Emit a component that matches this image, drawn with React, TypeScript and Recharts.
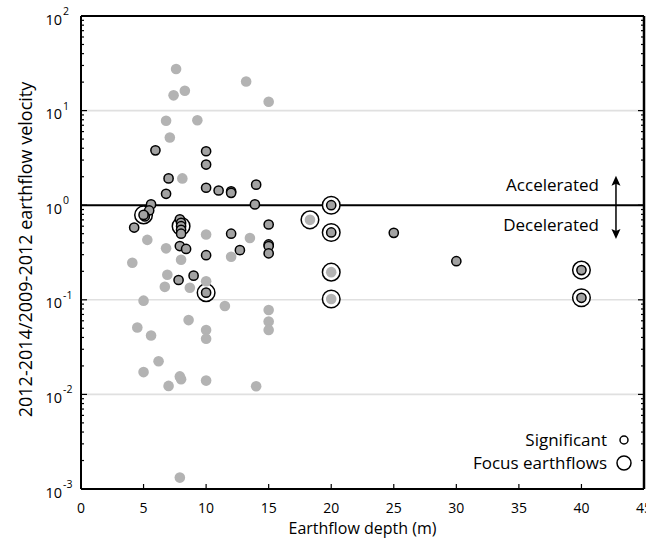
import React from 'react';
import { ScatterChart, Scatter, XAxis, YAxis, ReferenceLine, ReferenceDot, Legend } from 'recharts';

const FONT = '"Open Sans", "Noto Sans", sans-serif';

// ---- ticks ----
const depthTicks = [0, 5, 10, 15, 20, 25, 30, 35, 40, 45];
const decadeTicks = [0.001, 0.01, 0.1, 1, 10, 100];
const minorMultipliers = [2, 3, 4, 5, 6, 7, 8, 9];
const ratioTicks = [
  ...decadeTicks,
  ...decadeTicks.slice(0, -1).flatMap((d) => minorMultipliers.map((m) => +(d * m).toPrecision(3))),
].sort((a, b) => a - b);
const gridRatios = [10, 0.1, 0.01];

// ---- data ----
const nonsigDepth = [7.6, 13.2, 8.3, 7.4, 15.0, 6.8, 9.3, 7.1, 8.1, 13.5, 5.3, 10.0, 6.8, 12.0, 4.1, 8.0, 6.9, 6.7, 8.7, 10.0, 5.0, 11.5, 15.0, 15.0, 15.0, 8.6, 4.5, 10.0, 10.0, 5.6, 6.2, 5.0, 7.9, 8.0, 7.0, 10.0, 14.0, 7.9, 18.3, 20.0, 20.0];
const nonsigRatio = [27.5, 20.3, 16.2, 14.5, 12.4, 7.8, 7.9, 5.2, 1.92, 0.45, 0.43, 0.49, 0.35, 0.285, 0.246, 0.265, 0.184, 0.137, 0.134, 0.157, 0.098, 0.086, 0.078, 0.059, 0.048, 0.061, 0.051, 0.048, 0.0387, 0.042, 0.0224, 0.0172, 0.0155, 0.0145, 0.0123, 0.014, 0.0122, 0.00132, 0.70, 0.196, 0.102];

const sigDepth = [5.95, 10.0, 10.0, 7.0, 10.0, 11.0, 12.0, 12.0, 14.0, 6.8, 5.6, 13.9, 5.45, 5.1, 5.0, 4.25, 7.9, 8.0, 8.0, 8.0, 8.0, 7.9, 8.4, 7.8, 9.0, 10.0, 10.0, 12.0, 12.7, 15.0, 15.0, 15.0, 15.0, 20.0, 20.0, 25.0, 30.0, 40.0, 40.0];
const sigRatio = [3.8, 3.72, 2.69, 1.92, 1.53, 1.43, 1.40, 1.35, 1.65, 1.32, 1.02, 1.02, 0.88, 0.76, 0.79, 0.58, 0.71, 0.65, 0.60, 0.55, 0.50, 0.37, 0.345, 0.162, 0.18, 0.119, 0.296, 0.50, 0.335, 0.625, 0.385, 0.37, 0.31, 1.0, 0.515, 0.51, 0.256, 0.206, 0.105];

const focusDepth = [5.0, 8.0, 10.0, 18.3, 20.0, 20.0, 20.0, 20.0, 40.0, 40.0];
const focusRatio = [0.79, 0.60, 0.119, 0.70, 1.0, 0.515, 0.196, 0.102, 0.206, 0.105];

const toRows = (xs: number[], ys: number[]) => xs.map((d, i) => ({ depth: d, ratio: ys[i] }));
const nonsigData = toRows(nonsigDepth, nonsigRatio);
const sigData = toRows(sigDepth, sigRatio);
const focusData = toRows(focusDepth, focusRatio);

// annotation positions (data space)
const arrowDepth = 42.76;
const arrowTop = 2.05;
const arrowBottom = 0.44;
const textDepth = 41.4;
const accelRatio = 1.65;
const decelRatio = 0.62;

const isDecade = (v: number) => {
  const lg = Math.log10(v);
  return Math.abs(lg - Math.round(lg)) < 1e-6;
};

const LeftTick = (p: any) => {
  const { x, y, payload } = p;
  const v = payload.value;
  const major = isDecade(v);
  return (
    <g>
      <line x1={x} y1={y} x2={x + (major ? 6 : 3)} y2={y} stroke="#000" strokeWidth={1.2} />
      {major && (
        <>
          <text x={x - 19} y={y + 3} textAnchor="end" dominantBaseline="central" fontSize={14.5} fontFamily={FONT} fill="#000">10</text>
          <text x={x - 18} y={y - 5} textAnchor="start" dominantBaseline="central" fontSize={10.5} fontFamily={FONT} fill="#000">{String(Math.round(Math.log10(v)))}</text>
        </>
      )}
    </g>
  );
};

const RightTick = (p: any) => {
  const { x, y, payload } = p;
  const major = isDecade(payload.value);
  return <line x1={x} y1={y} x2={x - (major ? 6 : 3)} y2={y} stroke="#000" strokeWidth={1.2} />;
};

const BottomTick = (p: any) => {
  const { x, y, payload } = p;
  return (
    <g>
      <line x1={x} y1={y} x2={x} y2={y - 5} stroke="#000" strokeWidth={1.2} />
      <text x={x} y={y + 18} textAnchor="middle" dominantBaseline="central" fontSize={14} fontFamily={FONT} fill="#000">{payload.value}</text>
    </g>
  );
};

const TopTick = (p: any) => {
  const { x, y } = p;
  return <line x1={x} y1={y} x2={x} y2={y + 5} stroke="#000" strokeWidth={1.2} />;
};

const YLabel = (props: any) => {
  const vb = props.viewBox || { x: 0, y: 16, width: 73, height: 473 };
  const cx = vb.x + 17;
  const cy = vb.y + vb.height / 2 - 3;
  return (
    <text x={cx} y={cy} transform={`rotate(-90 ${cx} ${cy})`} textAnchor="middle" dominantBaseline="central" fontSize={18} fontFamily={FONT} fill="#000">
      2012-2014/2009-2012 earthflow velocity
    </text>
  );
};

const XLabel = (props: any) => {
  const vb = props.viewBox || { x: 73, y: 489, width: 563, height: 56 };
  const cx = vb.x + vb.width / 2;
  const cy = vb.y + 39;
  return (
    <text x={cx} y={cy} textAnchor="middle" dominantBaseline="central" fontSize={16} fontFamily={FONT} fill="#000">
      Earthflow depth (m)
    </text>
  );
};

const ArrowShape = (p: any) => {
  const { x1, y1, x2, y2 } = p;
  const top = Math.min(y1, y2);
  const bot = Math.max(y1, y2);
  const x = x1;
  return (
    <g>
      <line x1={x} y1={top + 4} x2={x} y2={bot - 4} stroke="#000" strokeWidth={1.5} />
      <path d={`M${x},${top} L${x + 4.5},${top + 10} L${x},${top + 8} L${x - 4.5},${top + 10} Z`} fill="#000" />
      <path d={`M${x},${bot} L${x + 4.5},${bot - 10} L${x},${bot - 8} L${x - 4.5},${bot - 10} Z`} fill="#000" />
    </g>
  );
};

const ringShape = (p: any) => <circle cx={p.cx} cy={p.cy} r={8.8} fill="#fff" stroke="#000" strokeWidth={1.5} />;
const nonsigShape = (p: any) => <circle cx={p.cx} cy={p.cy} r={5.3} fill="#b3b3b3" />;
const sigShape = (p: any) => <circle cx={p.cx} cy={p.cy} r={4.6} fill="#a2a2a2" stroke="#000" strokeWidth={1.5} />;

const LegendRow = ({ label, r }: { label: string; r: number }) => (
  <div style={{ display: 'flex', justifyContent: 'flex-end', alignItems: 'center', height: 23 }}>
    <span style={{ lineHeight: '23px', whiteSpace: 'nowrap' }}>{label}</span>
    <svg width={20} height={20} style={{ marginLeft: 7, display: 'block' }}>
      <circle cx={10} cy={10} r={r} fill="#fff" stroke="#000" strokeWidth={1.5} />
    </svg>
  </div>
);

const LegendContent = () => (
  <div style={{ fontFamily: FONT, fontSize: 17, color: '#000' }}>
    <LegendRow label="Significant" r={4} />
    <LegendRow label="Focus earthflows" r={7} />
  </div>
);

const labelStyle = { fontFamily: FONT, fontSize: 17, fill: '#000' };

export default function App() {
  return (
    <div style={{ position: 'fixed', left: 8, top: 0, width: 638, height: 545, background: '#fff' }}>
      <ScatterChart width={638} height={545} margin={{ top: 15, right: 1, bottom: 0, left: 0 }}>
        <XAxis
          xAxisId="bottom"
          dataKey="depth"
          type="number"
          domain={[0, 45]}
          ticks={depthTicks}
          interval={0}
          allowDataOverflow
          height={56}
          tickSize={0}
          tickMargin={0}
          tickLine={false}
          axisLine={{ stroke: '#000', strokeWidth: 2 }}
          tick={<BottomTick />}
          label={{ content: XLabel }}
        />
        <XAxis
          xAxisId="top"
          orientation="top"
          type="number"
          domain={[0, 45]}
          ticks={depthTicks}
          interval={0}
          allowDataOverflow
          height={1}
          tickSize={0}
          tickMargin={0}
          tickLine={false}
          axisLine={{ stroke: '#000', strokeWidth: 2 }}
          tick={<TopTick />}
        />
        <YAxis
          yAxisId="left"
          dataKey="ratio"
          type="number"
          scale="log"
          domain={[0.001, 100]}
          ticks={ratioTicks}
          interval={0}
          allowDataOverflow
          width={73}
          tickSize={0}
          tickMargin={0}
          tickLine={false}
          axisLine={{ stroke: '#000', strokeWidth: 2 }}
          tick={<LeftTick />}
          label={{ content: YLabel }}
        />
        <YAxis
          yAxisId="right"
          orientation="right"
          dataKey="ratio"
          type="number"
          scale="log"
          domain={[0.001, 100]}
          ticks={ratioTicks}
          interval={0}
          allowDataOverflow
          width={1}
          tickSize={0}
          tickMargin={0}
          tickLine={false}
          axisLine={{ stroke: '#000', strokeWidth: 2.5 }}
          tick={<RightTick />}
        />
        {gridRatios.map((g) => (
          <ReferenceLine key={g} xAxisId="bottom" yAxisId="left" y={g} stroke="#e0e0e0" strokeWidth={1.6} />
        ))}
        <ReferenceLine xAxisId="bottom" yAxisId="left" y={1} stroke="#000" strokeWidth={2} />
        <ReferenceLine
          xAxisId="bottom"
          yAxisId="left"
          segment={[{ x: arrowDepth, y: arrowTop }, { x: arrowDepth, y: arrowBottom }]}
          shape={ArrowShape}
        />
        <ReferenceDot
          xAxisId="bottom"
          yAxisId="left"
          x={textDepth}
          y={accelRatio}
          r={0.01}
          fill="none"
          stroke="none"
          label={{ value: 'Accelerated', position: 'left', offset: 0, style: labelStyle }}
        />
        <ReferenceDot
          xAxisId="bottom"
          yAxisId="left"
          x={textDepth}
          y={decelRatio}
          r={0.01}
          fill="none"
          stroke="none"
          label={{ value: 'Decelerated', position: 'left', offset: 0, style: labelStyle }}
        />
        <Scatter name="Focus earthflows" xAxisId="bottom" yAxisId="right" data={focusData} shape={ringShape} isAnimationActive={false} />
        <Scatter name="Not significant" xAxisId="bottom" yAxisId="left" data={nonsigData} shape={nonsigShape} isAnimationActive={false} />
        <Scatter name="Significant" xAxisId="bottom" yAxisId="left" data={sigData} shape={sigShape} isAnimationActive={false} />
        <Legend
          layout="horizontal"
          verticalAlign="middle"
          align="center"
          content={<LegendContent />}
          wrapperStyle={{ position: 'absolute', left: 406, top: 428, width: 220, height: 46 }}
        />
      </ScatterChart>
    </div>
  );
}
